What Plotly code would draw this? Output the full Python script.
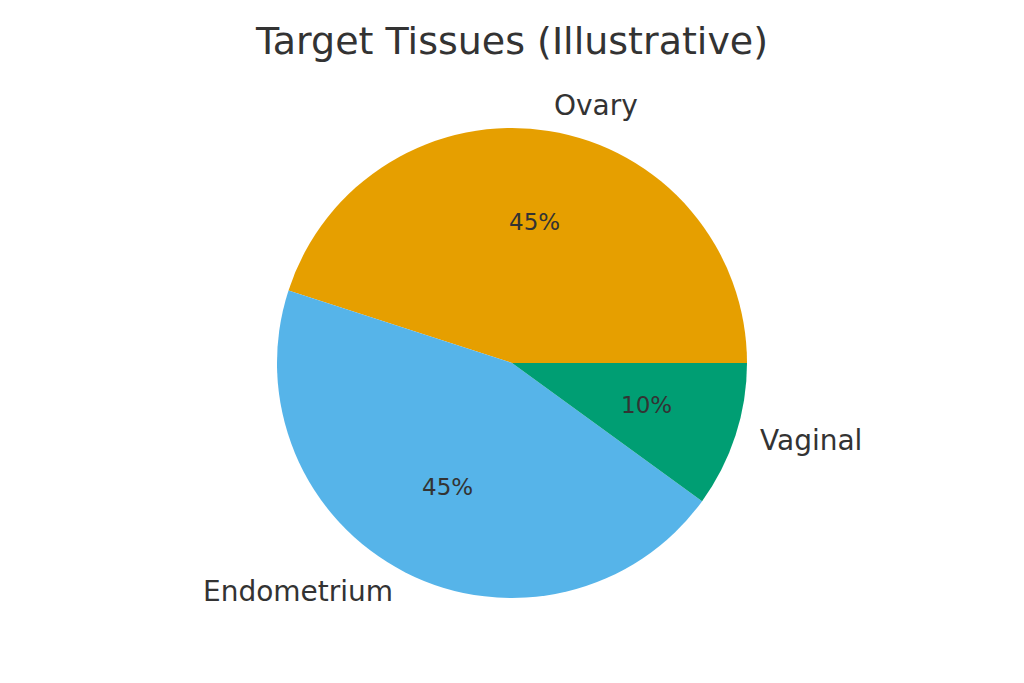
import numpy as np
import plotly.graph_objects as go

# data
labels = ['Ovary', 'Endometrium', 'Vaginal']
values = [45, 45, 10]
colors = ['#E69F00', '#56B4E9', '#009E73']

W, H = 1024, 683
body = 8  # default page margin of the browser
m_top, m_bot = 128 - body, 85 + body
m_left, m_right = 0, 2 * body
plot_w = W - m_left - m_right
plot_h = H - m_top - m_bot
radius = min(plot_w, plot_h) / 2

vals = np.array(values, dtype=float)
frac = vals / vals.sum()

fig = go.Figure()
fig.add_trace(go.Pie(
    labels=labels,
    values=values,
    marker=dict(colors=colors, line=dict(width=0)),
    sort=False,
    direction='counterclockwise',
    # first wedge starts at 3 o'clock and goes counterclockwise
    rotation=90 - 360 * frac[0],
    textinfo='none',
    hoverinfo='label+percent',
    showlegend=False,
))

# label / percent positions like matplotlib (labeldistance 1.1, pctdistance 0.6)
mid = (np.cumsum(frac) - frac / 2) * 2 * np.pi
annotations = []
for lab, f, a in zip(labels, frac, mid):
    c, s = np.cos(a), np.sin(a)
    annotations.append(dict(
        x=0.5 + 1.1 * c * radius / plot_w, y=0.5 + 1.1 * s * radius / plot_h,
        xref='paper', yref='paper', text=lab, showarrow=False, yshift=2,
        xanchor='left' if c > 0 else 'right', yanchor='middle',
        font=dict(size=28, color='#333333')))
    annotations.append(dict(
        x=0.5 + 0.6 * c * radius / plot_w, y=0.5 + 0.6 * s * radius / plot_h,
        xref='paper', yref='paper', text=f'{f * 100:.0f}%', showarrow=False,
        yshift=2, xanchor='center', yanchor='middle',
        font=dict(size=23, color='#333333')))

fig.update_layout(
    width=W, height=H,
    margin=dict(l=m_left, r=m_right, t=m_top, b=m_bot),
    title=dict(text='Target Tissues (Illustrative)', x=(W / 2 - body) / W,
               xanchor='center', y=1 - 33 / H, yanchor='middle', yref='container',
               font=dict(size=38, color='#333333')),
    font=dict(family='DejaVu Sans', color='#333333'),
    annotations=annotations,
    paper_bgcolor='white', plot_bgcolor='white',
)

fig.write_html('out.html')
